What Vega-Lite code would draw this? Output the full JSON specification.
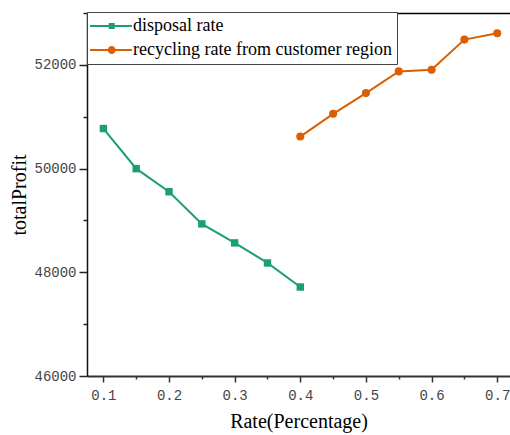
{
  "$schema": "https://vega.github.io/schema/vega-lite/v6.json",
  "autosize": "none",
  "padding": {"left": 87, "top": 13, "right": 0, "bottom": 59},
  "width": 423,
  "height": 363,
  "background": "white",
  "config": {
    "view": {"stroke": null},
    "font": "Liberation Serif"
  },
  "data": {
    "values": [
      {"rate": 0.1, "profit": 50772, "series": "disposal rate"},
      {"rate": 0.15, "profit": 49998, "series": "disposal rate"},
      {"rate": 0.2, "profit": 49553, "series": "disposal rate"},
      {"rate": 0.25, "profit": 48934, "series": "disposal rate"},
      {"rate": 0.3, "profit": 48567, "series": "disposal rate"},
      {"rate": 0.35, "profit": 48180, "series": "disposal rate"},
      {"rate": 0.4, "profit": 47716, "series": "disposal rate"},
      {"rate": 0.4, "profit": 50617, "series": "recycling rate from customer region"},
      {"rate": 0.45, "profit": 51056, "series": "recycling rate from customer region"},
      {"rate": 0.5, "profit": 51455, "series": "recycling rate from customer region"},
      {"rate": 0.55, "profit": 51874, "series": "recycling rate from customer region"},
      {"rate": 0.6, "profit": 51907, "series": "recycling rate from customer region"},
      {"rate": 0.65, "profit": 52487, "series": "recycling rate from customer region"},
      {"rate": 0.7, "profit": 52609, "series": "recycling rate from customer region"}
    ]
  },
  "resolve": {"axis": {"x": "independent"}},
  "layer": [
    {
      "mark": {"type": "point", "filled": true, "opacity": 0},
      "encoding": {
        "x": {
          "field": "rate", "type": "quantitative",
          "scale": {"domain": [0.075, 0.7195], "nice": false, "zero": false},
          "axis": {
            "orient": "bottom",
            "title": "Rate(Percentage)",
            "titleFont": "Liberation Serif", "titleFontSize": 20, "titleFontWeight": "normal", "titleColor": "black", "titlePadding": 9,
            "values": [0.1, 0.15, 0.2, 0.25, 0.3, 0.35, 0.4, 0.45, 0.5, 0.55, 0.6, 0.65, 0.7],
            "labelExpr": "abs(datum.value*10 - round(datum.value*10)) < 0.01 ? format(datum.value, '.1f') : ''",
            "labelFont": "Liberation Mono", "labelFontSize": 14, "labelColor": "#444", "labelPadding": 6,
            "tickSize": {"condition": {"test": "abs(datum.value*10 - round(datum.value*10)) < 0.01", "value": 6}, "value": 3},
            "tickColor": "#333", "tickWidth": 1.5,
            "domainColor": "#333", "domainWidth": 2,
            "grid": false
          }
        },
        "y": {
          "field": "profit", "type": "quantitative",
          "scale": {"domain": [46000, 53000], "nice": false, "zero": false},
          "axis": {
            "title": "totalProfit",
            "titleFont": "Liberation Serif", "titleFontSize": 20, "titleFontWeight": "normal", "titleColor": "black", "titlePadding": 4,
            "values": [46000, 47000, 48000, 49000, 50000, 51000, 52000, 53000],
            "format": "d",
            "labelExpr": "datum.value % 2000 === 0 ? datum.label : ''",
            "labelFont": "Liberation Mono", "labelFontSize": 14, "labelColor": "#444", "labelPadding": 3,
            "tickSize": {"condition": {"test": "datum.value % 2000 === 0", "value": 8}, "value": 4},
            "tickColor": "#222", "tickWidth": 1.5,
            "domainColor": "#111", "domainWidth": 1.5,
            "grid": false
          }
        },
        "color": {
          "field": "series", "type": "nominal",
          "scale": {"domain": ["disposal rate", "recycling rate from customer region"], "range": ["#1b9e77", "#d95f02"]},
          "legend": {
            "orient": "none", "legendX": 0, "legendY": -1,
            "title": null,
            "fillColor": "white", "strokeColor": "#444", "padding": 5, "rowPadding": 6,
            "labelFont": "Liberation Serif", "labelFontSize": 18, "labelColor": "black", "labelOffset": 23, "labelLimit": 400,
            "symbolSize": 100, "symbolStrokeWidth": 0, "symbolOpacity": 1
          }
        },
        "shape": {
          "field": "series", "type": "nominal",
          "scale": {
            "domain": ["disposal rate", "recycling rate from customer region"],
            "range": [
              "M-2.2,-0.2L6.2,-0.2L6.2,0.2L-2.2,0.2ZM1.54,-0.6L2.74,-0.6L2.74,0.6L1.54,0.6Z",
              "M-2.2,-0.2L6.2,-0.2L6.2,0.2L-2.2,0.2ZM2.94,0A0.8,0.8 0 1,1 1.34,0A0.8,0.8 0 1,1 2.94,0Z"
            ]
          },
          "legend": {
            "orient": "none", "legendX": 0, "legendY": -1,
            "title": null,
            "fillColor": "white", "strokeColor": "#444", "padding": 5, "rowPadding": 6,
            "labelFont": "Liberation Serif", "labelFontSize": 18, "labelColor": "black", "labelOffset": 23, "labelLimit": 400,
            "symbolSize": 100, "symbolStrokeWidth": 0, "symbolOpacity": 1
          }
        }
      }
    },
    {
      "mark": {"type": "line", "strokeWidth": 2},
      "encoding": {
        "x": {"field": "rate", "type": "quantitative", "axis": null},
        "y": {"field": "profit", "type": "quantitative"},
        "color": {"field": "series", "type": "nominal", "legend": null}
      }
    },
    {
      "transform": [{"filter": "datum.series === 'disposal rate'"}],
      "mark": {"type": "point", "filled": true, "size": 55, "opacity": 1, "shape": "square"},
      "encoding": {
        "x": {
          "field": "rate", "type": "quantitative",
          "axis": {"orient": "top", "title": null, "labels": false, "ticks": false, "grid": false, "domainColor": "black", "domainWidth": 1.5}
        },
        "y": {"field": "profit", "type": "quantitative"},
        "color": {"field": "series", "type": "nominal", "legend": null}
      }
    },
    {
      "transform": [{"filter": "datum.series !== 'disposal rate'"}],
      "mark": {"type": "point", "filled": true, "size": 65, "opacity": 1, "shape": "circle"},
      "encoding": {
        "x": {"field": "rate", "type": "quantitative", "axis": null},
        "y": {"field": "profit", "type": "quantitative"},
        "color": {"field": "series", "type": "nominal", "legend": null}
      }
    }
  ]
}
